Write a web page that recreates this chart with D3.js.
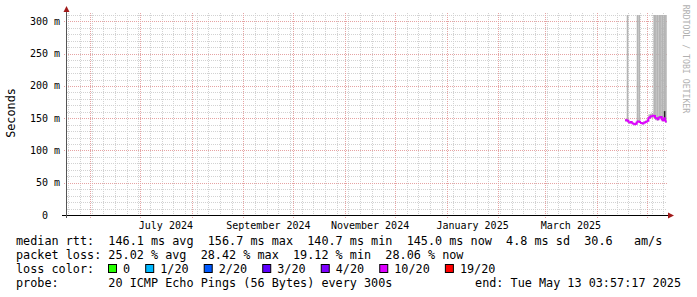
<!DOCTYPE html>
<html>
<head>
<meta charset="utf-8">
<script src="https://cdn.jsdelivr.net/npm/d3@7"></script>
<style>
html, body { margin: 0; padding: 0; background: #fff; }
svg { display: block; }
text { font-family: "DejaVu Sans Mono", monospace; white-space: pre; }
</style>
</head>
<body>
<div class="chart"></div>
<script>
// one value per day, consolidated
const days = ["2025-04-18", "2025-04-19", "2025-04-20", "2025-04-21", "2025-04-22", "2025-04-23",
    "2025-04-24", "2025-04-25", "2025-04-26", "2025-04-27", "2025-04-28", "2025-04-29", "2025-04-30",
    "2025-05-01", "2025-05-02", "2025-05-03", "2025-05-04", "2025-05-05", "2025-05-06", "2025-05-07",
    "2025-05-08", "2025-05-09", "2025-05-10", "2025-05-11", "2025-05-12"];
const medianMs = [147, 146, 143.5, 144, 142, 140.7, 141.5, 145, 144.5, 142.5, 142, 143.5, 144.5,
    146, 151, 153, 154, 153.5, 150, 148.5, 151.5, 152, 147, 150, 145];
const lostPings = [5.2, 5.6, 5.1, 5.0, 4.8, 4.9, 5.3, 5.7, 5.4, 4.6, 4.7, 5.0, 4.9,
    5.1, 5.2, 5.5, 5.3, 5.0, 4.8, 5.2, 5.6, 4.9, 5.4, 5.6, 5.6];
const smokeMin = [145, 144, 142, 142.5, 141, 139.5, 140, 143, 142.5, 141, 140.5, 142, 143,
    144.5, 149, 150, 151, 150, 147, 146, 148, 149, 145, 146, 143];
const smokeMax = [149, 480, 145, 145.5, 143.5, 142.5, 143, 480, 480, 144, 143.5, 145, 146,
    148, 156, 157, 158, 480, 480, 480, 480, 480, 480, 480, 480];
// dark smoke core, null where there is none
const darkMin = [null, null, null, null, null, null, null, null, null, null, null, null, null,
    null, null, null, null, null, null, null, null, null, null, 147, null];
const darkMax = [null, null, null, null, null, null, null, null, null, null, null, null, null,
    null, null, null, null, null, null, null, null, null, null, 161, null];

const lossLevels = [0, 1, 2, 3, 4, 10, 19];
const lossLabels = ["0", "1/20", "2/20", "3/20", "4/20", "10/20", "19/20"];
const lossColors = ["#26ff00", "#00b8ff", "#0059ff", "#5e00ff", "#7e00ff", "#dd00ff", "#ff0000"];

const yTicks = [0, 50, 100, 150, 200, 250, 300];
const labelMonths = ["2024-07-01", "2024-09-01", "2024-11-01", "2025-01-01", "2025-03-01"];

const legendLines = [
    "median rtt:  146.1 ms avg  156.7 ms max  140.7 ms min  145.0 ms now  4.8 ms sd  30.6   am/s",
    "packet loss: 25.02 % avg  28.42 % max  19.12 % min  28.06 % now"
];
const lossTitle = "loss color:";
const probeText = "probe:       20 ICMP Echo Pings (56 Bytes) every 300s";
const endText = "end: Tue May 13 03:57:17 2025";

const W = 697, H = 297;
const pLeft = 67, pRight = 667, pTop = 15, pBottom = 215;

const svg = d3.select(".chart").append("svg")
    .attr("width", W).attr("height", H)
    .attr("viewBox", `0 0 ${W} ${H}`);

svg.append("rect").attr("width", W).attr("height", H).attr("fill", "#fff");

const parse = d3.utcParse("%Y-%m-%d");
const tEnd = new Date(Date.UTC(2025, 4, 13, 3, 57, 17));
const tStart = new Date(tEnd - 360 * 864e5);

const x = d3.scaleUtc().domain([tStart, tEnd]).range([pLeft, pRight]);
const y = d3.scaleLinear().domain([0, 310]).range([pBottom, pTop]);

// grid
const grid = svg.append("g");
const minorCol = "#d2d2d2", majorCol = "#e6a3a3";

const hMinor = d3.range(0, 311, 10).filter(v => v % 50 !== 0);
grid.selectAll(".hmin").data(hMinor).enter().append("line")
    .attr("x1", pLeft).attr("x2", pRight)
    .attr("y1", d => Math.round(y(d)) + 0.5).attr("y2", d => Math.round(y(d)) + 0.5)
    .attr("stroke", minorCol).attr("stroke-dasharray", "1,1");

const weeks = d3.utcSunday.range(tStart, tEnd);
grid.selectAll(".vmin").data(weeks).enter().append("line")
    .attr("x1", d => Math.round(x(d)) + 0.5).attr("x2", d => Math.round(x(d)) + 0.5)
    .attr("y1", pTop - 2).attr("y2", pBottom)
    .attr("stroke", minorCol).attr("stroke-dasharray", "1,1");

grid.selectAll(".hmaj").data(yTicks.filter(v => v > 0)).enter().append("line")
    .attr("x1", pLeft - 3).attr("x2", pRight)
    .attr("y1", d => Math.round(y(d)) + 0.5).attr("y2", d => Math.round(y(d)) + 0.5)
    .attr("stroke", majorCol).attr("stroke-dasharray", "1,1");

const months = d3.utcMonth.range(tStart, tEnd);
grid.selectAll(".vmaj").data(months).enter().append("line")
    .attr("x1", d => Math.round(x(d)) + 0.5).attr("x2", d => Math.round(x(d)) + 0.5)
    .attr("y1", pTop - 2).attr("y2", pBottom + 3)
    .attr("stroke", majorCol).attr("stroke-dasharray", "1,1");

// data
svg.append("clipPath").attr("id", "plot")
    .append("rect").attr("x", pLeft).attr("y", pTop).attr("width", pRight - pLeft).attr("height", pBottom - pTop);

const plot = svg.append("g").attr("clip-path", "url(#plot)");
const rows = days.map((d, i) => ({
    t0: parse(d), t1: d3.utcDay.offset(parse(d), 1),
    med: medianMs[i], loss: lostPings[i],
    lo: smokeMin[i], hi: smokeMax[i], dlo: darkMin[i], dhi: darkMax[i]
}));

plot.selectAll(".smoke").data(rows).enter().append("rect")
    .attr("x", d => x(d.t0)).attr("width", d => x(d.t1) - x(d.t0))
    .attr("y", d => y(d.hi)).attr("height", d => y(d.lo) - y(d.hi))
    .attr("fill", "#b4b4b4");

plot.selectAll(".dark").data(rows.filter(d => d.dlo !== null)).enter().append("rect")
    .attr("x", d => x(d.t0) + 0.5).attr("width", 1.5)
    .attr("y", d => y(d.dhi)).attr("height", d => y(d.dlo) - y(d.dhi))
    .attr("fill", "#222");

function lossColor(l) {
    let idx = lossLevels.findIndex(v => l <= v);
    if (idx < 0) idx = lossLevels.length - 1;
    return lossColors[idx];
}

plot.selectAll(".med").data(rows).enter().append("path")
    .attr("d", (d, i) => {
        const nxt = rows[i + 1];
        let p = `M${x(d.t0)},${y(d.med)}H${x(d.t1)}`;
        if (nxt) p += `V${y(nxt.med)}`;
        return p;
    })
    .attr("fill", "none").attr("stroke", d => lossColor(d.loss))
    .attr("stroke-width", 2);

// axes
const arrowCol = "#a11a1a";
svg.append("line").attr("x1", pLeft - 5).attr("x2", pRight + 2)
    .attr("y1", pBottom + 0.5).attr("y2", pBottom + 0.5).attr("stroke", "#000");
svg.append("line").attr("x1", pLeft - 0.5).attr("x2", pLeft - 0.5)
    .attr("y1", pTop - 5).attr("y2", pBottom + 3).attr("stroke", "#555");
svg.append("path").attr("d", `M${pRight + 1},${pBottom - 2.5}L${pRight + 7},${pBottom + 0.5}L${pRight + 1},${pBottom + 3.5}Z`)
    .attr("fill", arrowCol);
svg.append("path").attr("d", `M${pLeft - 3.5},${pTop - 3}L${pLeft - 0.5},${pTop - 9}L${pLeft + 2.5},${pTop - 3}Z`)
    .attr("fill", arrowCol);

svg.selectAll(".ylab").data(yTicks).enter().append("text")
    .attr("x", 60).attr("y", d => y(d) + 3.5)
    .attr("text-anchor", "end").attr("font-size", 10).attr("fill", "#000")
    .attr("xml:space", "preserve")
    .text(d => d === 0 ? "0  " : d + " m");

const fmtMonth = d3.utcFormat("%B %Y");
svg.selectAll(".xlab").data(labelMonths.map(parse)).enter().append("text")
    .attr("x", d => (x(d) + x(d3.utcMonth.offset(d, 1))) / 2)
    .attr("y", 229).attr("text-anchor", "middle").attr("font-size", 10)
    .text(d => fmtMonth(d));

svg.append("text").attr("transform", "translate(15,113) rotate(-90)")
    .attr("text-anchor", "middle").attr("font-size", 11.8).text("Seconds");

svg.append("text").attr("transform", "translate(683,59) rotate(90)")
    .attr("text-anchor", "middle").attr("font-size", 8.2).attr("fill", "#b0b0b0")
    .text("RRDTOOL / TOBI OETIKER");

// legend
const lf = 11.8, cw = lf * 0.602;
const legend = svg.append("g").attr("font-size", lf).attr("fill", "#000");
legend.selectAll(".ll").data(legendLines).enter().append("text")
    .attr("x", 16).attr("y", (d, i) => 245 + i * 14)
    .attr("xml:space", "preserve").text(d => d);

legend.append("text").attr("x", 16).attr("y", 273).text(lossTitle);
let lx = 108.5;
lossLabels.forEach((lab, i) => {
    legend.append("rect").attr("x", lx).attr("y", 264.5).attr("width", 8).attr("height", 8)
        .attr("fill", lossColors[i]).attr("stroke", "#000");
    legend.append("text").attr("x", lx + 14.5).attr("y", 273).text(lab);
    lx = lx + 14.5 + lab.length * cw + 15.6;
});

legend.append("text").attr("x", 16).attr("y", 287).attr("xml:space", "preserve").text(probeText);
legend.append("text").attr("x", 681).attr("y", 287).attr("text-anchor", "end").text(endText);
</script>
</body>
</html>
